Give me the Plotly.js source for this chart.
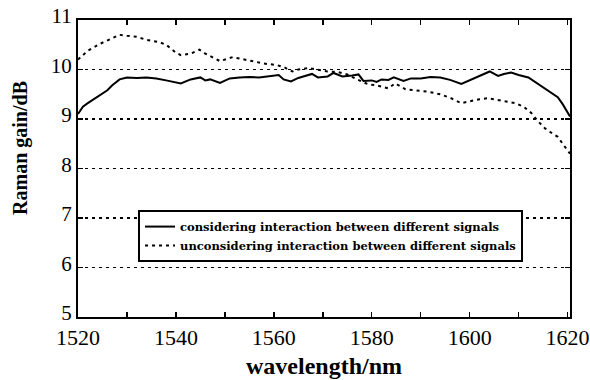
<!DOCTYPE html>
<html>
<head>
<meta charset="utf-8">
<script src="https://cdn.plot.ly/plotly-3.0.1.min.js"></script>
<style>html,body{margin:0;padding:0;background:#fff;}#chart{width:590px;height:380px;}</style>
</head>
<body>
<div id="chart"></div>
<script>
var seriesNames = ["considering interaction between different signals", "unconsidering interaction between different signals"];

var wlConsidering = [1520,1521,1522,1524,1526,1527,1528.5,1530,1532,1534,1536,1538,1540,1541,1543,1545,1546,1547,1549,1551,1553,1555,1557,1559,1561,1562,1563.5,1565,1567.8,1569,1571,1572.2,1574,1576,1577.3,1578.3,1580,1581,1582,1583.4,1584.5,1586.5,1588,1590,1592,1594,1596,1598.3,1600,1602,1604.1,1605.8,1607,1608.5,1610,1612,1613.5,1615.3,1617,1618,1619,1620.5];
var gainConsidering = [9.1,9.25,9.32,9.45,9.58,9.68,9.8,9.84,9.83,9.84,9.82,9.78,9.73,9.72,9.8,9.84,9.78,9.8,9.73,9.82,9.84,9.85,9.84,9.87,9.89,9.8,9.76,9.83,9.91,9.84,9.86,9.93,9.86,9.88,9.9,9.77,9.78,9.75,9.8,9.79,9.84,9.77,9.82,9.82,9.85,9.84,9.79,9.71,9.78,9.86,9.96,9.87,9.91,9.94,9.89,9.84,9.74,9.62,9.52,9.44,9.3,9.05];

var wlUnconsidering = [1520,1522,1524.5,1527,1528.5,1530,1532,1534,1536.7,1538,1540,1541,1543,1544.8,1546,1548,1549,1551.6,1553,1555.7,1558,1560.6,1562,1563.8,1565,1567,1569,1571,1573,1575,1577,1579.3,1581,1583.4,1584.8,1586.9,1589,1591.5,1594,1596.2,1598.3,1600,1602,1603.7,1606.4,1609.3,1611,1612.6,1614,1615.4,1617,1618,1619,1620.5];
var gainUnconsidering = [10.2,10.38,10.52,10.64,10.7,10.68,10.66,10.6,10.55,10.5,10.34,10.29,10.32,10.4,10.32,10.22,10.17,10.25,10.22,10.16,10.12,10.09,10.05,9.96,10.0,10.03,10.0,9.96,9.95,9.9,9.8,9.7,9.68,9.62,9.72,9.6,9.58,9.55,9.5,9.42,9.32,9.36,9.4,9.42,9.37,9.32,9.25,9.12,8.95,8.81,8.7,8.64,8.5,8.3];

var xTickVals = [1520,1530,1540,1550,1560,1570,1580,1590,1600,1610,1620];
var xTickText = ["1520","","1540","","1560","","1580","","1600","","1620"];
var yTickVals = [5,6,7,8,9,10,11];
var yTickText = ["5","6","7","8","9","10","11"];
var xTitle = "wavelength/nm";
var yTitle = "Raman gain/dB";

var traces = [
  {x: wlConsidering, y: gainConsidering, name: seriesNames[0], type: "scatter", mode: "lines",
   line: {color: "#000", width: 2}},
  {x: wlUnconsidering, y: gainUnconsidering, name: seriesNames[1], type: "scatter", mode: "lines",
   line: {color: "#000", width: 2, dash: "3px,4px"}}
];

var serif = "Liberation Serif, Times New Roman, serif";
var layout = {
  width: 590, height: 380,
  margin: {l: 78, r: 20, t: 20, b: 63},
  paper_bgcolor: "#fff", plot_bgcolor: "#fff",
  showlegend: true,
  legend: {x: 0.122, y: 0.36, xanchor: "left", yanchor: "top",
    bgcolor: "#fff", bordercolor: "#000", borderwidth: 2,
    font: {family: "DejaVu Serif, serif", size: 11.5, color: "#000", weight: "bold"},
    tracegroupgap: 0, itemwidth: 30},
  xaxis: {range: [1520, 1620.5], tickvals: xTickVals, ticktext: xTickText,
    ticks: "inside", ticklen: 5, tickwidth: 1.5, tickcolor: "#000",
    showline: true, linecolor: "#000", linewidth: 2, mirror: "ticks",
    showgrid: false, zeroline: false,
    tickfont: {family: serif, size: 22, color: "#000"},
    title: {text: xTitle, font: {family: serif, size: 24, color: "#000", weight: "bold"}, standoff: 8}},
  yaxis: {range: [5, 11], tickvals: yTickVals, ticktext: yTickText,
    ticks: "inside", ticklen: 5, tickwidth: 1.5, tickcolor: "#000",
    showline: true, linecolor: "#000", linewidth: 2, mirror: "ticks",
    showgrid: true, gridcolor: "#000", gridwidth: 1.5, griddash: "3px,4px", zeroline: false,
    tickfont: {family: serif, size: 21, color: "#000"}, ticklabelshift: -4,
    title: {text: ""}},
  annotations: [{text: yTitle, xref: "paper", yref: "paper", x: -0.118, y: 0.569,
    xanchor: "center", yanchor: "middle", textangle: -90, showarrow: false,
    font: {family: serif, size: 20, color: "#000", weight: "bold"}}]
};

Plotly.newPlot("chart", traces, layout, {displayModeBar: false, staticPlot: true});
</script>
</body>
</html>
